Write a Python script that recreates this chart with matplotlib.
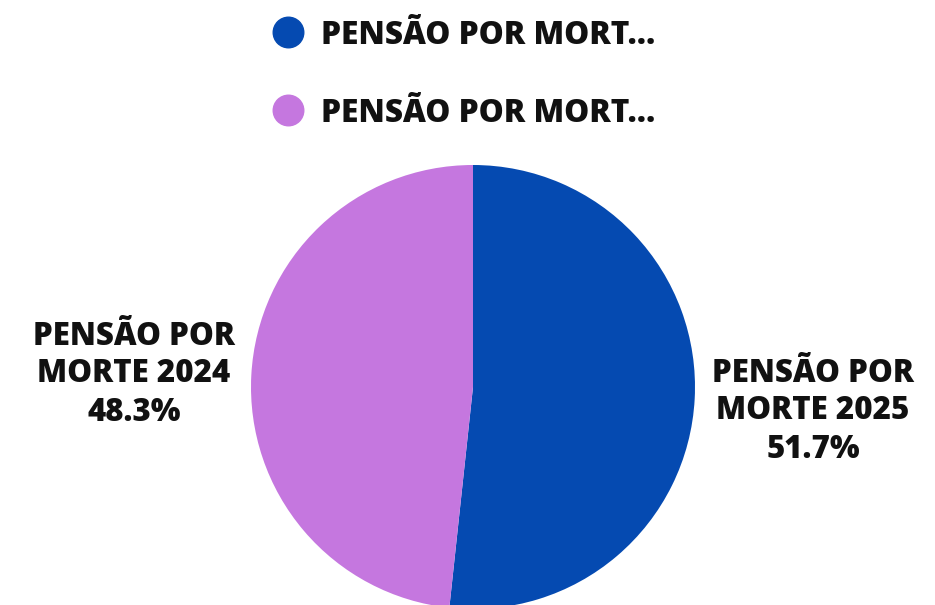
import matplotlib.pyplot as plt
from matplotlib.lines import Line2D

labels = ['PENSÃO POR MORTE 2025', 'PENSÃO POR MORTE 2024']
values = [51.7, 48.3]
colors = ['#054ab1', '#c577df']

W, H = 935, 605
fig = plt.figure(figsize=(W / 100, H / 100), dpi=100)
fig.patch.set_facecolor('white')

# pie placed by pixel centre / radius
cx, cy, r = 473, 387, 222
ax = fig.add_axes([(cx - r) / W, (H - cy - r) / H, 2 * r / W, 2 * r / H])
ax.pie(values, colors=colors, startangle=90, counterclock=False,
       wedgeprops=dict(linewidth=0))
ax.set_aspect('equal')
ax.set_xlim(-1, 1)
ax.set_ylim(-1, 1)
ax.axis('off')

font = dict(family='Open Sans', weight='heavy', color='#111111')

# slice labels: two name lines, then the percentage a bit closer
def slice_label(i, x, ytop):
    name = labels[i].rsplit(' ', 1)
    fig.text(x / W, 1 - ytop / H, 'PENSÃO POR\nMORTE ' + name[1],
             ha='center', va='top', fontsize=22.5, linespacing=1.2, **font)
    fig.text(x / W, 1 - (ytop + 100) / H, f'{values[i]}%',
             ha='center', va='baseline', fontsize=22.5, **font)

slice_label(1, 134, 321)
slice_label(0, 813, 358)

# legend drawn by hand
for i, y in enumerate([32, 110]):
    fig.add_artist(Line2D([288 / W], [1 - y / H], marker='o', markersize=22,
                          color=colors[i], linestyle='none',
                          transform=fig.transFigure))
    fig.text(321 / W, 1 - y / H, labels[i][:15] + '...', ha='left',
             va='center_baseline', fontsize=22.8, **font)

fig.savefig('out.png', dpi=100, facecolor='white')
